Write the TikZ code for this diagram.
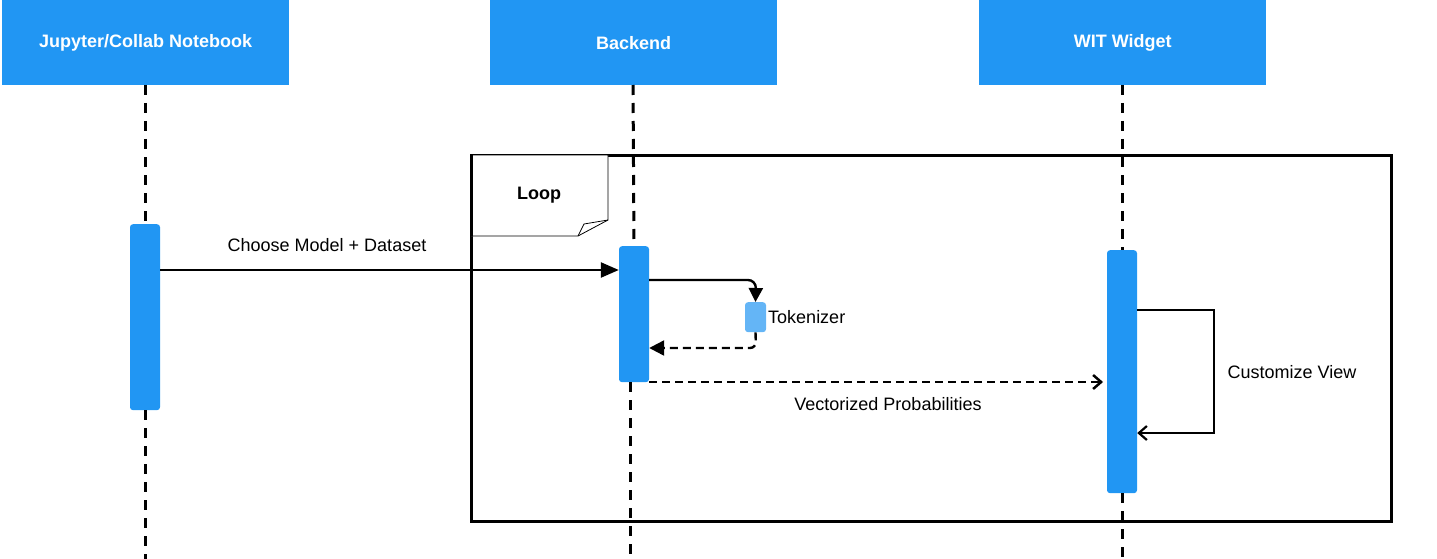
\documentclass[tikz,border=0pt]{standalone}
\usepackage{fontspec}
\setmainfont{Liberation Sans}
\usetikzlibrary{arrows.meta}
\definecolor{hdr}{HTML}{2196F3}
\definecolor{tok}{HTML}{64B5F6}
\tikzset{
  header/.style={fill=hdr, draw=none, minimum width=287pt, minimum height=85pt, anchor=north west, inner sep=0pt, text=white, font=\fontsize{18}{22}\selectfont\bfseries},
  actbar/.style={fill=hdr, draw=none, rounded corners=3pt, minimum width=30pt, inner sep=0pt, anchor=north},
  lifeline/.style={line width=3pt, dash pattern=on 10pt off 8pt},
  msg/.style={line width=2.4pt},
  lbl/.style={font=\fontsize{18}{22}\selectfont, inner sep=0pt},
}
\begin{document}
\begin{tikzpicture}[x=1pt,y=-1pt]
\useasboundingbox (0,0) rectangle (1437,559);
% headers
\node[header] (hj) at (2,0) {Jupyter/Collab Notebook};
\node[header] (hb) at (490,0) {Backend};
\node[header] (hw) at (979,0) {WIT Widget};
% loop frame
\draw[line width=3pt] (471,155) rectangle (1391,521);
\draw[line width=0.8pt, fill=white] (471,155) -- (608,155) -- (608,220) -- (578,236) -- (471,236);
\draw[line width=0.8pt] (608,220) -- (584,224) -- (578,236);
\draw[line width=3pt] (471,155) -- (471,236);
\node[lbl, font=\fontsize{18}{22}\selectfont\bfseries] (looplbl) at (539,195) {Loop};
% activation bars
\node[actbar, minimum height=186pt] (aj) at (145,224) {};
\node[actbar, minimum height=136pt] (ab) at (634,246) {};
\node[actbar, fill=tok, minimum width=21pt, minimum height=30pt] (at) at (755.5,302) {};
\node[actbar, minimum height=243pt] (aw) at (1122,250) {};
% lifelines
\coordinate (jbot) at (145,559);
\coordinate (bbot) at (630,559);
\coordinate (wbot) at (1122,559);
\draw[lifeline] (145,85) -- (aj.north);
\draw[lifeline] (aj.south) -- (jbot);
\draw[lifeline] (633,85) -- (ab.north);
\draw[lifeline] (630,382) -- (bbot);
\draw[lifeline] (1122,85) -- (aw.north);
\draw[lifeline] (aw.south) -- (wbot);
% messages
\draw[msg, -{Triangle[length=18pt,width=15pt]}] (aj.east |- 0,270) -- (ab.west |- 0,270);
\node[lbl] (l1) at (327,245) {Choose Model + Dataset};
\draw[msg, rounded corners=8pt, -{Triangle[length=14pt,width=14pt]}] (ab.east |- 0,280) -- (756,280) -- (at.north);
\draw[msg, dash pattern=on 8pt off 5pt, rounded corners=6pt, -{Triangle[length=15pt,width=15pt]}] (at.south) -- (756,348) -- (ab.east |- 0,348);
\node[lbl, anchor=west] (l2) at (768,317) {Tokenizer};
\draw[msg, dash pattern=on 8pt off 5pt, -{Straight Barb[length=8pt,width=14pt,line width=2.5pt]}] (ab.east |- 0,382) -- (1103,382);
\node[lbl] (l3) at (888,404) {Vectorized Probabilities};
\draw[msg, -{Straight Barb[length=8pt,width=14pt,line width=2.2pt]}] (aw.east |- 0,310) -- (1214,310) -- (1214,433) -- (aw.east |- 0,433);
\node[lbl] (l4) at (1292,372) {Customize View};
\end{tikzpicture}
\end{document}
